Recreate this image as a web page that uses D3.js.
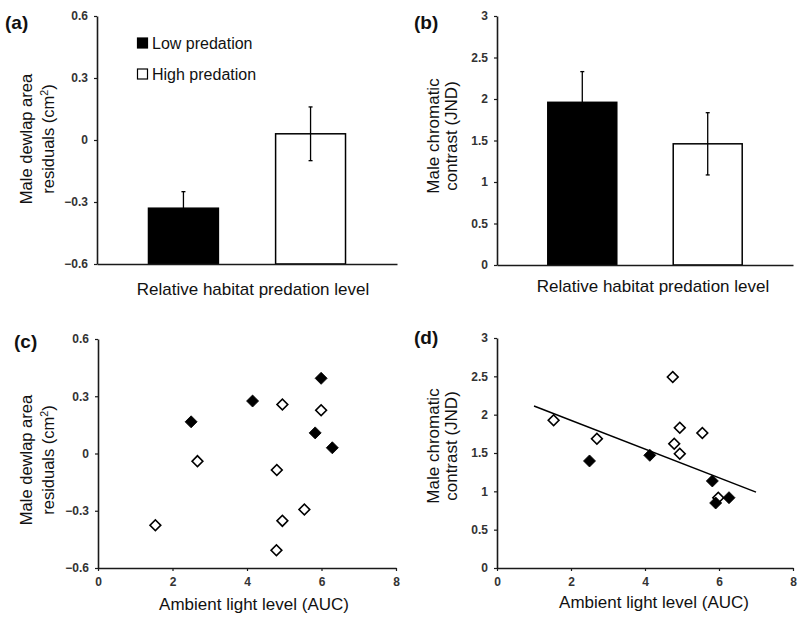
<!DOCTYPE html>
<html>
<head>
<meta charset="utf-8">
<script src="https://cdn.jsdelivr.net/npm/d3@7"></script>
<style>
  html, body { margin: 0; padding: 0; background: #fff; }
  svg { display: block; font-family: "Liberation Sans", Arial, sans-serif; }
</style>
</head>
<body>
<svg id="chart" width="798" height="619"></svg>
<script>
// ---------- data ----------
const categories = ["Low predation", "High predation"];
const dewlapMeans = [-0.33, 0.03];
const dewlapSE = [0.08, 0.13];
const contrastMeans = [1.96, 1.46];
const contrastSE = [0.37, 0.375];

const dewlapTicks = [-0.6, -0.3, 0, 0.3, 0.6];
const contrastTicks = [0, 0.5, 1, 1.5, 2, 2.5, 3];
const lightTicks = [0, 2, 4, 6, 8];

// panel (c)
const cLowLight = [2.50, 4.15, 5.99, 5.83, 6.29];
const cLowDewlap = [0.166, 0.275, 0.394, 0.108, 0.030];
const cHighLight = [1.54, 2.67, 4.95, 5.99, 4.80, 5.54, 4.95, 4.79];
const cHighDewlap = [-0.376, -0.040, 0.257, 0.227, -0.087, -0.294, -0.353, -0.507];

// panel (d)
const dLowLight = [2.50, 4.13, 5.82, 5.91, 6.27];
const dLowContrast = [1.396, 1.47, 1.135, 0.848, 0.917];
const dHighLight = [1.53, 2.70, 4.75, 4.94, 5.55, 4.79, 4.94, 5.98];
const dHighContrast = [1.926, 1.687, 2.49, 1.83, 1.76, 1.62, 1.49, 0.917];

// regression line in (d)
const trendX = [1, 7];
const trendY = [2.113, 0.99];

// ---------- drawing ----------
const svg = d3.select("#chart");
const ink = "#1a1a1a";

function styleAxis(g) {
  g.select(".domain").attr("stroke", ink).attr("stroke-width", 1.6);
  g.selectAll(".tick line").attr("stroke", ink).attr("stroke-width", 1.2);
  g.selectAll(".tick text").attr("fill", "#333")
    .style("font-size", "12px").style("font-weight", "bold");
}

function yLabel(lines, cx, cy, x1, x2, size) {
  const t = svg.append("text")
    .attr("transform", `translate(0,${cy}) rotate(-90)`)
    .attr("text-anchor", "middle")
    .style("font-size", size + "px").attr("fill", "#111");
  t.append("tspan").attr("x", 0).attr("y", x1).text(lines[0]);
  const t2 = t.append("tspan").attr("x", 0).attr("y", x2);
  if (lines[1] === "residuals (cm²)") {
    t2.text("residuals (cm");
    t2.append("tspan").text("2").style("font-size", (size * 0.65) + "px").attr("dy", -6);
    t2.append("tspan").text(")").attr("dy", 6);
  } else {
    t2.text(lines[1]);
  }
}

function panelLabel(txt, x, y) {
  svg.append("text").attr("x", x).attr("y", y)
    .style("font-size", "19px").style("font-weight", "bold").attr("fill", "#111")
    .text(txt);
}

function xLabel(txt, cx, y) {
  svg.append("text").attr("x", cx).attr("y", y).attr("text-anchor", "middle")
    .style("font-size", "17px").attr("fill", "#111").text(txt);
}

function barPanel(opts) {
  const { left, right, top, bottom, yDomain, ticks, fmt, means, se } = opts;
  const x = d3.scaleBand().domain(categories).range([left, right])
    .paddingInner(0.45).paddingOuter(0.405);
  const y = d3.scaleLinear().domain(yDomain).range([bottom, top]);

  const fills = ["#000", "#fff"];
  svg.append("g").selectAll("rect").data(categories).join("rect")
    .attr("x", d => x(d))
    .attr("y", (d, i) => y(means[i]))
    .attr("width", x.bandwidth())
    .attr("height", (d, i) => y(yDomain[0]) - y(means[i]))
    .attr("fill", (d, i) => fills[i])
    .attr("stroke", "#000").attr("stroke-width", 1.5);

  const eb = svg.append("g").attr("stroke", "#000").attr("stroke-width", 1.3);
  categories.forEach((c, i) => {
    const cx = x(c) + x.bandwidth() / 2;
    eb.append("line").attr("x1", cx).attr("x2", cx)
      .attr("y1", y(means[i] - se[i])).attr("y2", y(means[i] + se[i]));
    [means[i] - se[i], means[i] + se[i]].forEach(v => {
      eb.append("line").attr("x1", cx - 2).attr("x2", cx + 2)
        .attr("y1", y(v)).attr("y2", y(v));
    });
  });

  const ya = svg.append("g").attr("transform", `translate(${left},0)`)
    .call(d3.axisLeft(y).tickValues(ticks).tickFormat(fmt).tickSize(3).tickPadding(6).tickSizeOuter(0));
  styleAxis(ya);
  const xa = svg.append("g").attr("transform", `translate(0,${bottom})`)
    .call(d3.axisBottom(x).tickSize(0).tickFormat(""));
  styleAxis(xa);
  return { x, y };
}

function scatterPanel(opts) {
  const { left, right, top, bottom, yDomain, ticks, fmt, lowX, lowY, highX, highY, trend } = opts;
  const x = d3.scaleLinear().domain([0, 8]).range([left, right]);
  const y = d3.scaleLinear().domain(yDomain).range([bottom, top]);

  const ya = svg.append("g").attr("transform", `translate(${left},0)`)
    .call(d3.axisLeft(y).tickValues(ticks).tickFormat(fmt).tickSize(3).tickPadding(6).tickSizeOuter(0));
  styleAxis(ya);
  const xa = svg.append("g").attr("transform", `translate(0,${bottom})`)
    .call(d3.axisBottom(x).tickValues(lightTicks).tickFormat(d3.format("d")).tickSize(3).tickPadding(6).tickSizeOuter(0));
  styleAxis(xa);

  if (trend) {
    svg.append("line")
      .attr("x1", x(trend[0][0])).attr("y1", y(trend[1][0]))
      .attr("x2", x(trend[0][1])).attr("y2", y(trend[1][1]))
      .attr("stroke", "#000").attr("stroke-width", 1.5);
  }

  const sym = d3.symbol().type(d3.symbolSquare);
  svg.append("g").selectAll("path").data(highX).join("path")
    .attr("d", sym.size(58)())
    .attr("transform", (d, i) => `translate(${x(d)},${y(highY[i])}) rotate(45)`)
    .attr("fill", "#fff").attr("stroke", "#000").attr("stroke-width", 1.6);
  svg.append("g").selectAll("path").data(lowX).join("path")
    .attr("d", sym.size(72)())
    .attr("transform", (d, i) => `translate(${x(d)},${y(lowY[i])}) rotate(45)`)
    .attr("fill", "#000").attr("stroke", "#000").attr("stroke-width", 0.8);
}

const fmtDewlap = d => d === 0 ? "0" : d3.format(".1f")(d);
const fmtContrast = d => String(d);

// (a)
barPanel({ left: 97, right: 397, top: 16, bottom: 264, yDomain: [-0.6, 0.6],
  ticks: dewlapTicks, fmt: fmtDewlap, means: dewlapMeans, se: dewlapSE });
// legend
const legend = svg.append("g");
categories.forEach((c, i) => {
  const cy = 43 + i * 31;
  legend.append("rect").attr("x", 137.5).attr("y", cy - 5).attr("width", 10).attr("height", 10)
    .attr("fill", i === 0 ? "#000" : "#fff").attr("stroke", "#000").attr("stroke-width", 1.2);
  legend.append("text").attr("x", 152).attr("y", cy + 5.5)
    .style("font-size", "16px").attr("fill", "#111").text(c);
});
panelLabel("(a)", 5, 29);
yLabel(["Male dewlap area", "residuals (cm²)"], 0, 139, 32, 54, 16.5);
xLabel("Relative habitat predation level", 253, 295);

// (b)
barPanel({ left: 497, right: 793, top: 16, bottom: 265, yDomain: [0, 3],
  ticks: contrastTicks, fmt: fmtContrast, means: contrastMeans, se: contrastSE });
panelLabel("(b)", 414, 29);
yLabel(["Male chromatic", "contrast (JND)"], 0, 136, 439, 457, 17);
xLabel("Relative habitat predation level", 653, 292);

// (c)
scatterPanel({ left: 98, right: 396, top: 339, bottom: 568, yDomain: [-0.6, 0.6],
  ticks: dewlapTicks, fmt: fmtDewlap, lowX: cLowLight, lowY: cLowDewlap,
  highX: cHighLight, highY: cHighDewlap });
panelLabel("(c)", 14, 348);
yLabel(["Male dewlap area", "residuals (cm²)"], 0, 460, 32, 54, 16.5);
xLabel("Ambient light level (AUC)", 254, 610);

// (d)
scatterPanel({ left: 497, right: 793, top: 338, bottom: 568, yDomain: [0, 3],
  ticks: contrastTicks, fmt: fmtContrast, lowX: dLowLight, lowY: dLowContrast,
  highX: dHighLight, highY: dHighContrast, trend: [trendX, trendY] });
panelLabel("(d)", 414, 344);
yLabel(["Male chromatic", "contrast (JND)"], 0, 446, 439, 457, 17);
xLabel("Ambient light level (AUC)", 654, 608);
</script>
</body>
</html>
